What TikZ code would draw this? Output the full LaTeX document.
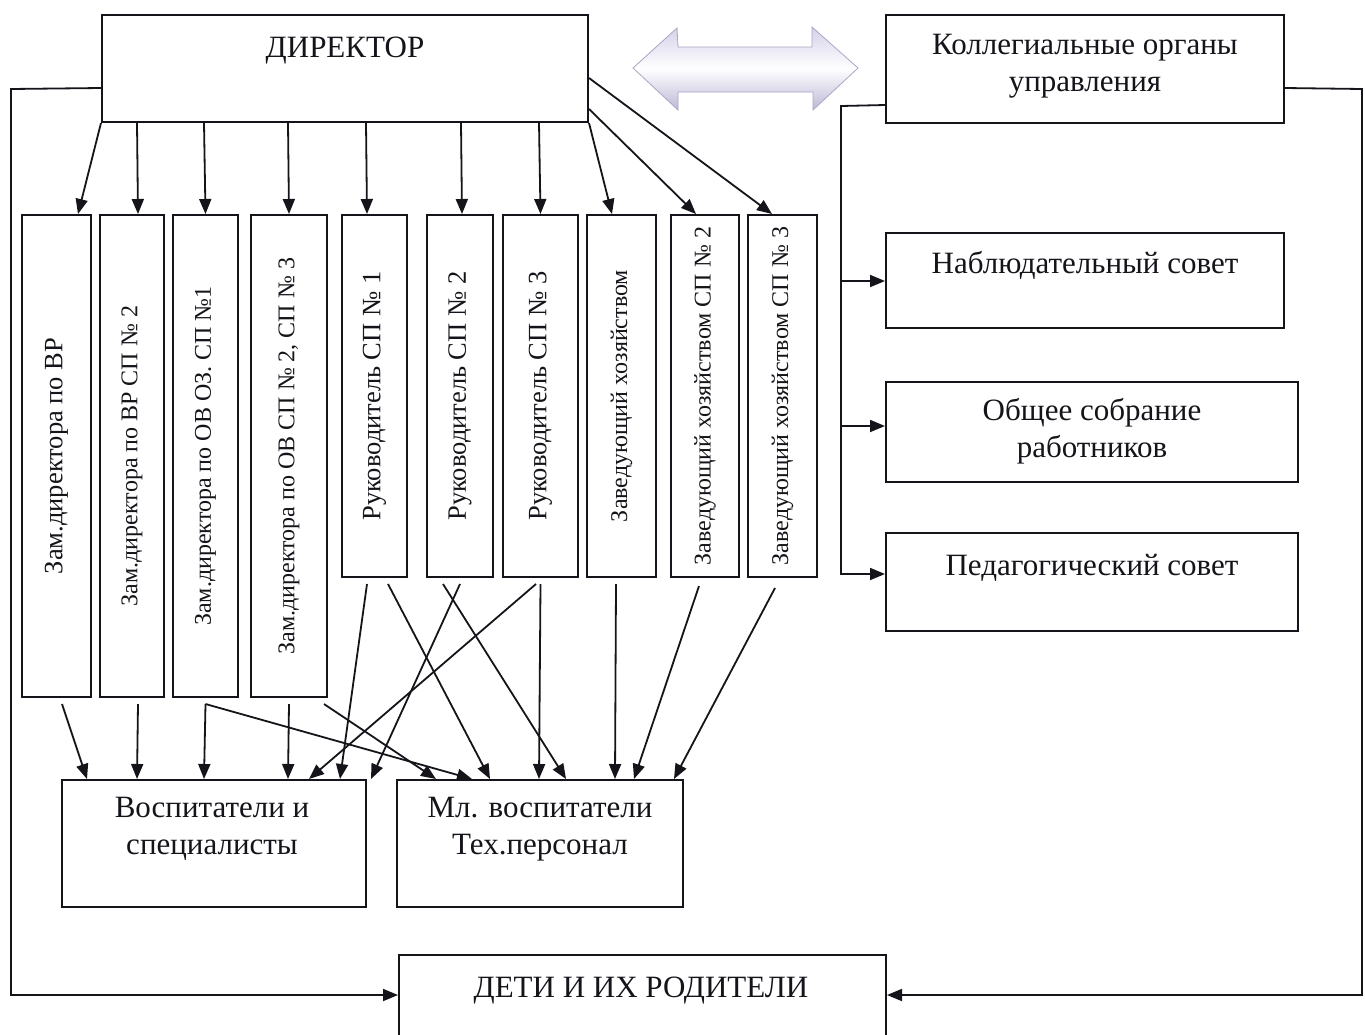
\documentclass[tikz,border=0pt]{standalone}
\usepackage{fontspec}
\setmainfont{Liberation Serif}
\usetikzlibrary{arrows.meta,calc}
\definecolor{ink}{RGB}{20,20,26}
\definecolor{lavtop}{RGB}{212,209,232}
\definecolor{lavbot}{RGB}{188,184,214}
\definecolor{lavedge}{RGB}{170,166,200}
\begin{document}
\begin{tikzpicture}[x=1pt,y=-1pt,
  box/.style={draw=ink, line width=2pt, inner sep=0pt, fill=white},
  htext/.style={font=\fontsize{31}{37}\selectfont, align=center, inner sep=0pt, text=ink},
  vtext/.style={rotate=90, font=\fontsize{24}{28}\selectfont, inner sep=0pt, text=ink},
  vbig/.style={rotate=90, font=\fontsize{26.5}{30}\selectfont, inner sep=0pt, text=ink},
  arr/.style={draw=ink, line width=1.8pt, -{Triangle[length=15pt,width=12pt]}},
  conn/.style={draw=ink, line width=1.8pt}]
\useasboundingbox (0,0) rectangle (1365,1034);
\clip (0,0) rectangle (1365,1034);
\fill[white] (0,0) rectangle (1365,1034);

% ---- top boxes
\node[box, minimum width=486, minimum height=107] (dir) at (345,68.5) {};
\node[htext, anchor=base] (dirt) at (345,57) {ДИРЕКТОР};
\node[box, minimum width=398, minimum height=108] (kol) at (1085,69) {};
\node[htext] (kolt) at (1085,66) {Коллегиальные органы\\управления};

% ---- double arrow
\shade[top color=lavtop, bottom color=lavbot, middle color=white, draw=lavedge, line width=0.8pt]
  (633,68) -- (677,28) -- (678,47) -- (812,47) -- (812,27) -- (858,68)
  -- (813,110) -- (813,92) -- (678,92) -- (678,110) -- cycle;

% ---- right column
\node[box, minimum width=398, minimum height=95] (nabl) at (1085,280.5) {};
\node[htext, anchor=base] (nablt) at (1085,273) {Наблюдательный совет};
\node[box, minimum width=412, minimum height=100] (obsh) at (1092,432) {};
\node[htext] (obsht) at (1092,431) {Общее собрание\\работников};
\node[box, minimum width=412, minimum height=98] (ped) at (1092,582) {};
\node[htext, anchor=base] (pedt) at (1092,575) {Педагогический совет};

% ---- vertical boxes
\node[box, minimum width=69, minimum height=482] (b1) at (56.5,456) {};
\node[vbig] (b1t) at (b1) {Зам.директора по ВР};
\node[box, minimum width=64, minimum height=482] (b2) at (132,456) {};
\node[vtext] (b2t) at (b2) {Зам.директора по ВР СП № 2};
\node[box, minimum width=65, minimum height=482] (b3) at (205.5,456) {};
\node[vtext] (b3t) at (b3) {Зам.директора по ОВ ОЗ. СП №1};
\node[box, minimum width=76, minimum height=482] (b4) at (289,456) {};
\node[vtext] (b4t) at (b4) {Зам.директора по ОВ СП № 2, СП № 3};
\node[box, minimum width=65, minimum height=362] (r1) at (374.5,396) {};
\node[vbig] (r1t) at (r1) {Руководитель СП № 1};
\node[box, minimum width=66, minimum height=362] (r2) at (460,396) {};
\node[vbig] (r2t) at (r2) {Руководитель СП № 2};
\node[box, minimum width=75, minimum height=362] (r3) at (540.5,396) {};
\node[vbig] (r3t) at (r3) {Руководитель СП № 3};
\node[box, minimum width=69, minimum height=362] (z1) at (621.5,396) {};
\node[vtext] (z1t) at (z1) {Заведующий хозяйством};
\node[box, minimum width=68, minimum height=362] (z2) at (705,396) {};
\node[vtext] (z2t) at (z2) {Заведующий хозяйством СП № 2};
\node[box, minimum width=69, minimum height=362] (z3) at (782.5,396) {};
\node[vtext] (z3t) at (z3) {Заведующий хозяйством СП № 3};

% ---- bottom boxes
\node[box, minimum width=304, minimum height=127] (vosp) at (214,843.5) {};
\node[htext] (vospt) at (212,829) {Воспитатели и\\специалисты};
\node[box, minimum width=286, minimum height=127] (ml) at (540,843.5) {};
\node[htext] (mlt) at (540,829) {Мл. воспитатели\\Тех.персонал};
\node[box, minimum width=487, minimum height=120] (deti) at (642.5,1015) {};
\node[htext, anchor=base] (detit) at (641,997) {ДЕТИ И ИХ РОДИТЕЛИ};

% ---- director -> vertical boxes
\draw[arr] (dir.south west) -- ($(b1.north)+(21.5,0)$);
\draw[arr] ($(dir.south west)+(36,0)$) -- ($(b2.north)+(6,0)$);
\draw[arr] ($(dir.south west)+(103,0)$) -- (b3.north);
\draw[arr] ($(dir.south west)+(187,0)$) -- (b4.north);
\draw[arr] ($(dir.south west)+(265,0)$) -- ($(r1.north)+(-7.5,0)$);
\draw[arr] ($(dir.south west)+(360,0)$) -- ($(r2.north)+(2,0)$);
\draw[arr] ($(dir.south west)+(438,0)$) -- (r3.north);
\draw[arr] (dir.south east) -- ($(z1.north)+(-9.5,0)$);
\draw[arr] ($(dir.south east)+(0,-14)$) -- ($(z2.north)+(-9,0)$);
\draw[arr] ($(dir.south east)+(0,-45)$) -- ($(z3.north)+(-10.5,0)$);

% ---- vertical boxes -> bottom boxes
\draw[arr] ($(b1.south)+(5.5,6)$) -- ($(vosp.north west)+(26,0)$);
\draw[arr] ($(b2.south)+(6,6)$) -- ($(vosp.north west)+(76,0)$);
\draw[arr] ($(b3.south)+(0,6)$) -- ($(vosp.north west)+(143,0)$);
\draw[arr] ($(b3.south)+(0,6)$) -- ($(ml.north west)+(76,0)$);
\draw[arr] ($(b4.south)+(0,6)$) -- ($(vosp.north west)+(227,0)$);
\draw[arr] ($(b4.south)+(35,6)$) -- ($(ml.north west)+(40,0)$);
\draw[arr] ($(r1.south)+(-7.5,6)$) -- ($(vosp.north west)+(279,0)$);
\draw[arr] ($(r1.south)+(13.5,6)$) -- ($(ml.north west)+(94,0)$);
\draw[arr] ($(r2.south)+(0,6)$) -- ($(vosp.north east)+(4,0)$);
\draw[arr] ($(r2.south)+(-17,6)$) -- ($(ml.north west)+(170,0)$);
\draw[arr] ($(r3.south)+(-4.5,6)$) -- ($(vosp.north west)+(248,0)$);
\draw[arr] ($(r3.south)+(0,6)$) -- ($(ml.north west)+(143,0)$);
\draw[arr] ($(z1.south)+(-5.5,6)$) -- ($(ml.north west)+(219,0)$);
\draw[arr] ($(z2.south)+(-6,8)$) -- ($(ml.north west)+(238,0)$);
\draw[arr] ($(z3.south)+(-7.5,10)$) -- ($(ml.north west)+(278,0)$);

% ---- outer connectors
\coordinate (lc) at (11,89);
\coordinate (lb) at (11,995);
\coordinate (rc) at (1362,89);
\coordinate (rb) at (1362,995);
\coordinate (tr) at (841,106);
\draw[arr] ($(dir.north west)+(0,74)$) -- (lc) -- (lb) -- (lb -| deti.west);
\draw[arr] ($(kol.north east)+(0,74)$) -- (rc) -- (rb) -- (rb -| deti.east);
\coordinate (na) at ($(nabl.north west)+(0,49)$);
\coordinate (oa) at ($(obsh.north west)+(0,45)$);
\coordinate (pa) at ($(ped.north west)+(0,42)$);
\draw[arr] ($(kol.north west)+(0,91)$) -- (tr) |- (pa);
\draw[arr] (tr |- na) -- (na);
\draw[arr] (tr |- oa) -- (oa);
\end{tikzpicture}
\end{document}
